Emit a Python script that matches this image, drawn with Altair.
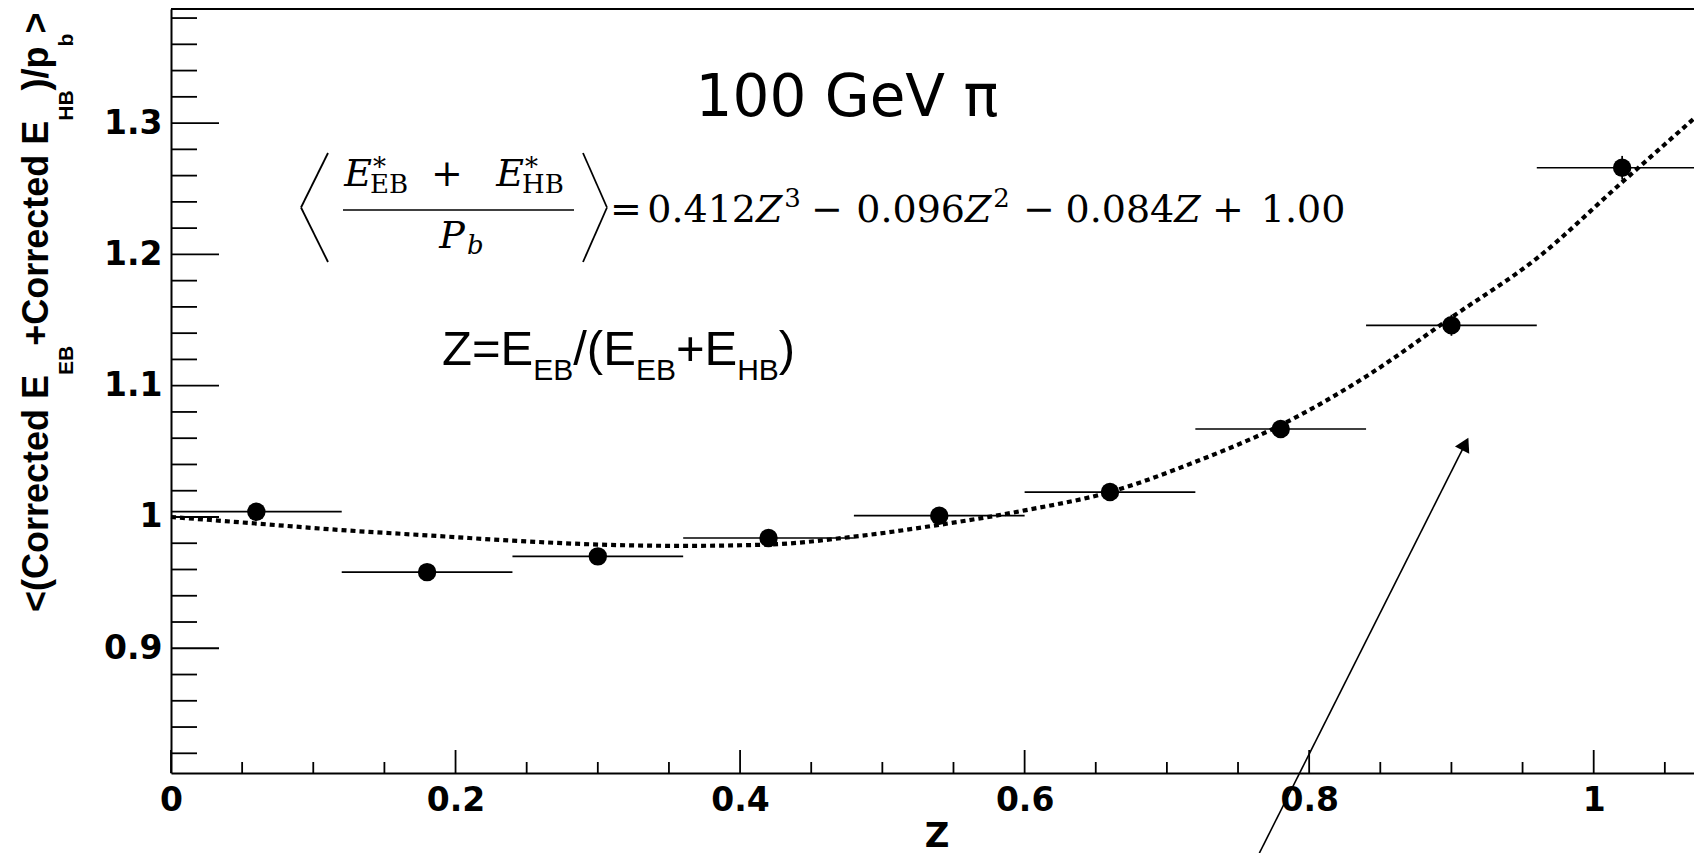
import altair as alt
import pandas as pd

# ---------------- data ----------------
Z_CENTER = [0.06, 0.18, 0.30, 0.42, 0.54, 0.66, 0.78, 0.90, 1.02]
Z_LOW = [0.00, 0.12, 0.24, 0.36, 0.48, 0.60, 0.72, 0.84, 0.96]
Z_HIGH = [0.12, 0.24, 0.36, 0.48, 0.60, 0.72, 0.84, 0.96, 1.08]
RESPONSE = [1.004, 0.958, 0.970, 0.984, 1.001, 1.019, 1.067, 1.146, 1.266]
RESPONSE_ERR = [0.004, 0.004, 0.004, 0.004, 0.004, 0.005, 0.006, 0.008, 0.009]

FIT_Z = [0.00, 0.06, 0.12, 0.18, 0.24, 0.30, 0.36, 0.42, 0.48, 0.54,
         0.60, 0.66, 0.72, 0.78, 0.84, 0.90, 0.96, 1.02, 1.07]
FIT_V = [1.000, 0.995, 0.990, 0.986, 0.982, 0.979, 0.978, 0.979, 0.985, 0.994,
         1.005, 1.019, 1.042, 1.070, 1.107, 1.152, 1.197, 1.255, 1.303]

X_MAJOR = [0.0, 0.2, 0.4, 0.6, 0.8, 1.0]
X_MINOR = [0.05, 0.1, 0.15, 0.25, 0.3, 0.35, 0.45, 0.5, 0.55, 0.65, 0.7, 0.75,
           0.85, 0.9, 0.95, 1.05]
Y_MAJOR = [0.9, 1.0, 1.1, 1.2, 1.3]
Y_MINOR = [0.82, 0.84, 0.86, 0.88, 0.92, 0.94, 0.96, 0.98, 1.02, 1.04, 1.06,
           1.08, 1.12, 1.14, 1.16, 1.18, 1.22, 1.24, 1.26, 1.28, 1.32, 1.34,
           1.36, 1.38]

ARROW_TAIL = (0.765, 0.744)
ARROW_HEAD = (0.9097, 1.0557)

TITLE_TEXT = "100 GeV π"
ZDEF_PARTS = ["Z=E", "EB", "/(E", "EB", "+E", "HB", ")"]
YTITLE_PARTS = ["<(Corrected E", "EB", "+Corrected E", "HB", ")/p", "b", ">"]
XTITLE = "Z"
FIT_TERMS = [("0.412", "3"), ("0.096", "2"), ("0.084", "")]
FIT_CONST = "1.00"

# ---------------- layout ----------------
W, H = 1523, 764
PX0, PY0 = 171, 9          # page position of the plot origin
XDOM = [0.0, 1.0705]
YDOM = [0.805, 1.3869]


def XS():
    return alt.Scale(domain=XDOM, nice=False, zero=False)


def YS():
    return alt.Scale(domain=YDOM, nice=False, zero=False)


AXIS_COMMON = dict(ticks=False, grid=False, title=None, domainColor="black",
                   domainWidth=2, labelFont="DejaVu Sans", labelFontWeight="bold",
                   labelFontSize=33, labelColor="black", labelFlush=False,
                   labelOverlap=False)
X_AXIS = alt.Axis(values=X_MAJOR, labelPadding=11,
                  labelExpr="datum.value == 0 ? '0' : datum.value == 1 ? '1' : format(datum.value, '.1f')",
                  **AXIS_COMMON)
Y_AXIS = alt.Axis(values=Y_MAJOR, labelPadding=9,
                  labelExpr="datum.value == 1 ? '1' : format(datum.value, '.1f')",
                  **AXIS_COMMON)


def X(field):
    return alt.X(field, type="quantitative", scale=XS(), axis=X_AXIS)


def Y(field):
    return alt.Y(field, type="quantitative", scale=YS(), axis=Y_AXIS)


def txt(text, x, y, size, font, weight="normal", style="normal",
        align="center", baseline="alphabetic", angle=0):
    return alt.Chart(pd.DataFrame({"t": [text]})).mark_text(
        font=font, fontSize=size, fontWeight=weight, fontStyle=style,
        align=align, baseline=baseline, angle=angle, color="black"
    ).encode(x=alt.value(x - PX0), y=alt.value(y - PY0), text="t:N")


def seg(x1, y1, x2, y2, w=1.8):
    return alt.Chart(pd.DataFrame({"a": [0]})).mark_rule(
        color="black", strokeWidth=w).encode(
        x=alt.value(x1 - PX0), y=alt.value(y1 - PY0),
        x2=alt.value(x2 - PX0), y2=alt.value(y2 - PY0))


layers = []

# fit curve (defines axes)
fit_df = pd.DataFrame({"Z": FIT_Z, "v": FIT_V})
layers.append(alt.Chart(fit_df).mark_line(
    color="black", strokeWidth=4.2, strokeDash=[5, 4], interpolate="monotone"
).encode(x=X("Z"), y=Y("v")))

# inner ticks
layers.append(alt.Chart(pd.DataFrame({"v": Y_MAJOR})).mark_rule(
    color="black", strokeWidth=1.8).encode(y=Y("v"), x=alt.value(0), x2=alt.value(48)))
layers.append(alt.Chart(pd.DataFrame({"v": Y_MINOR})).mark_rule(
    color="black", strokeWidth=1.8).encode(y=Y("v"), x=alt.value(0), x2=alt.value(26)))
layers.append(alt.Chart(pd.DataFrame({"Z": X_MAJOR})).mark_rule(
    color="black", strokeWidth=1.8).encode(x=X("Z"), y=alt.value(H), y2=alt.value(H - 23)))
layers.append(alt.Chart(pd.DataFrame({"Z": X_MINOR})).mark_rule(
    color="black", strokeWidth=1.8).encode(x=X("Z"), y=alt.value(H), y2=alt.value(H - 11)))

# top frame line
layers.append(alt.Chart(pd.DataFrame({"a": [0]})).mark_rule(
    color="black", strokeWidth=2).encode(x=alt.value(0), x2=alt.value(W + 20), y=alt.value(0)))

# data points with error bars
pts = pd.DataFrame({
    "Z": Z_CENTER, "v": RESPONSE, "lo": Z_LOW, "hi": Z_HIGH,
    "elo": [v - e for v, e in zip(RESPONSE, RESPONSE_ERR)],
    "ehi": [v + e for v, e in zip(RESPONSE, RESPONSE_ERR)],
})
layers.append(alt.Chart(pts).mark_rule(color="black", strokeWidth=1.7).encode(
    x=X("lo"), x2="hi", y=Y("v")))
layers.append(alt.Chart(pts).mark_rule(color="black", strokeWidth=1.7).encode(
    x=X("Z"), y=Y("elo"), y2="ehi"))
layers.append(alt.Chart(pts).mark_circle(color="black", size=340, opacity=1).encode(
    x=X("Z"), y=Y("v")))

# arrow
arr = pd.DataFrame({"Z": [ARROW_TAIL[0]], "v": [ARROW_TAIL[1]],
                    "Z2": [ARROW_HEAD[0]], "v2": [ARROW_HEAD[1]]})
layers.append(alt.Chart(arr).mark_rule(color="black", strokeWidth=1.6).encode(
    x=X("Z"), y=Y("v"), x2="Z2", y2="v2"))
layers.append(alt.Chart(arr).mark_point(
    shape="triangle-up", filled=True, size=256, angle=26.8, color="black", opacity=1
).encode(x=X("Z2"), y=Y("v2")))

# title "100 GeV π"
layers.append(txt(TITLE_TEXT, 847, 116, 58, "DejaVu Sans"))

# Z definition
ARIAL = {"Z": 611, "=": 584, "E": 667, "B": 667, "H": 722, "/": 278,
         "(": 333, ")": 333, "+": 584}
xpos = 442.0
for i, part in enumerate(ZDEF_PARTS):
    sub = i % 2 == 1
    size = 30 if sub else 49
    layers.append(txt(part, xpos, 380 if sub else 365, size, "Liberation Sans",
                      align="left"))
    xpos += sum(ARIAL[c] for c in part) / 1000.0 * size

# y-axis title (rotated, with subscripts)
ARIALB = {" ": 278, "(": 333, ")": 333, "+": 584, "/": 278, "<": 584, ">": 584,
          "B": 722, "C": 722, "E": 667, "H": 722, "b": 611, "c": 556, "d": 611,
          "e": 556, "o": 611, "p": 611, "r": 389, "t": 333}
ypos = 612.0
for i, part in enumerate(YTITLE_PARTS):
    sub = i % 2 == 1
    size = 21 if sub else 36
    layers.append(txt(part, 72.5 if sub else 48.4, ypos, size, "Liberation Sans",
                      weight="bold", align="left", angle=270))
    ypos -= sum(ARIALB[c] for c in part) / 1000.0 * size

# x-axis title
layers.append(txt(XTITLE, 937, 847, 34, "DejaVu Sans", weight="bold"))

# ---------------- fit equation ----------------
SERIF = "DejaVu Serif"
ES, SS = 38, 26                      # main / script sizes
SERIFW = {"0": 636, "1": 636, "2": 636, "3": 636, "4": 636, "6": 636, "8": 636,
          "9": 636, ".": 318, "Z": 690, "E": 740}
NUM_BASE, SUB_BASE, STAR_BASE = 186, 193, 176
MAIN_BASE, SUP_BASE = 222, 207

# angle brackets and fraction bar
layers += [seg(328, 153, 301, 207.5), seg(301, 207.5, 328, 262),
           seg(583, 153, 607, 207.5), seg(607, 207.5, 583, 262),
           seg(343, 210, 574, 210, 1.6)]

# numerator  E*_EB + E*_HB
for ecx, sub in ((358, "EB"), (510, "HB")):
    layers.append(txt("E", ecx, NUM_BASE, ES, SERIF, style="italic"))
    right = ecx + 0.74 * ES / 2
    layers.append(txt("*", right + 1, STAR_BASE, SS, SERIF, align="left"))
    layers.append(txt(sub, right - 2, SUB_BASE, SS, SERIF, align="left"))
layers.append(txt("+", 447, NUM_BASE, ES, SERIF))
# denominator P_b
layers.append(txt("P", 452, 248, ES, SERIF, style="italic"))
layers.append(txt("b", 467, 254, SS, SERIF, style="italic", align="left"))

# right-hand side
layers.append(txt("=", 626, MAIN_BASE, ES, SERIF))
for (coef, power), cx in zip(FIT_TERMS, (723, 932, 1133)):
    wc = sum(SERIFW[c] for c in coef) / 1000.0 * ES
    wz = SERIFW["Z"] / 1000.0 * ES
    wp = sum(SERIFW[c] for c in power) / 1000.0 * SS
    left = cx - (wc + wz + wp) / 2
    layers.append(txt(coef, left, MAIN_BASE, ES, SERIF, align="left"))
    layers.append(txt("Z", left + wc, MAIN_BASE, ES, SERIF, style="italic", align="left"))
    if power:
        layers.append(txt(power, left + wc + wz + 2, SUP_BASE, SS, SERIF, align="left"))
layers.append(txt("−", 827, MAIN_BASE, ES, SERIF))
layers.append(txt("−", 1039, MAIN_BASE, ES, SERIF))
layers.append(txt("+", 1228, MAIN_BASE, ES, SERIF))
layers.append(txt(FIT_CONST, 1303, MAIN_BASE, ES, SERIF))

chart = alt.layer(*layers).properties(
    width=W, height=H,
    padding={"left": 163, "top": 1, "right": 0, "bottom": 81},
    autosize=alt.AutoSizeParams(type="none"),
).configure_view(stroke=None)

chart.save("out.html", embed_options={"renderer": "svg", "actions": False})
